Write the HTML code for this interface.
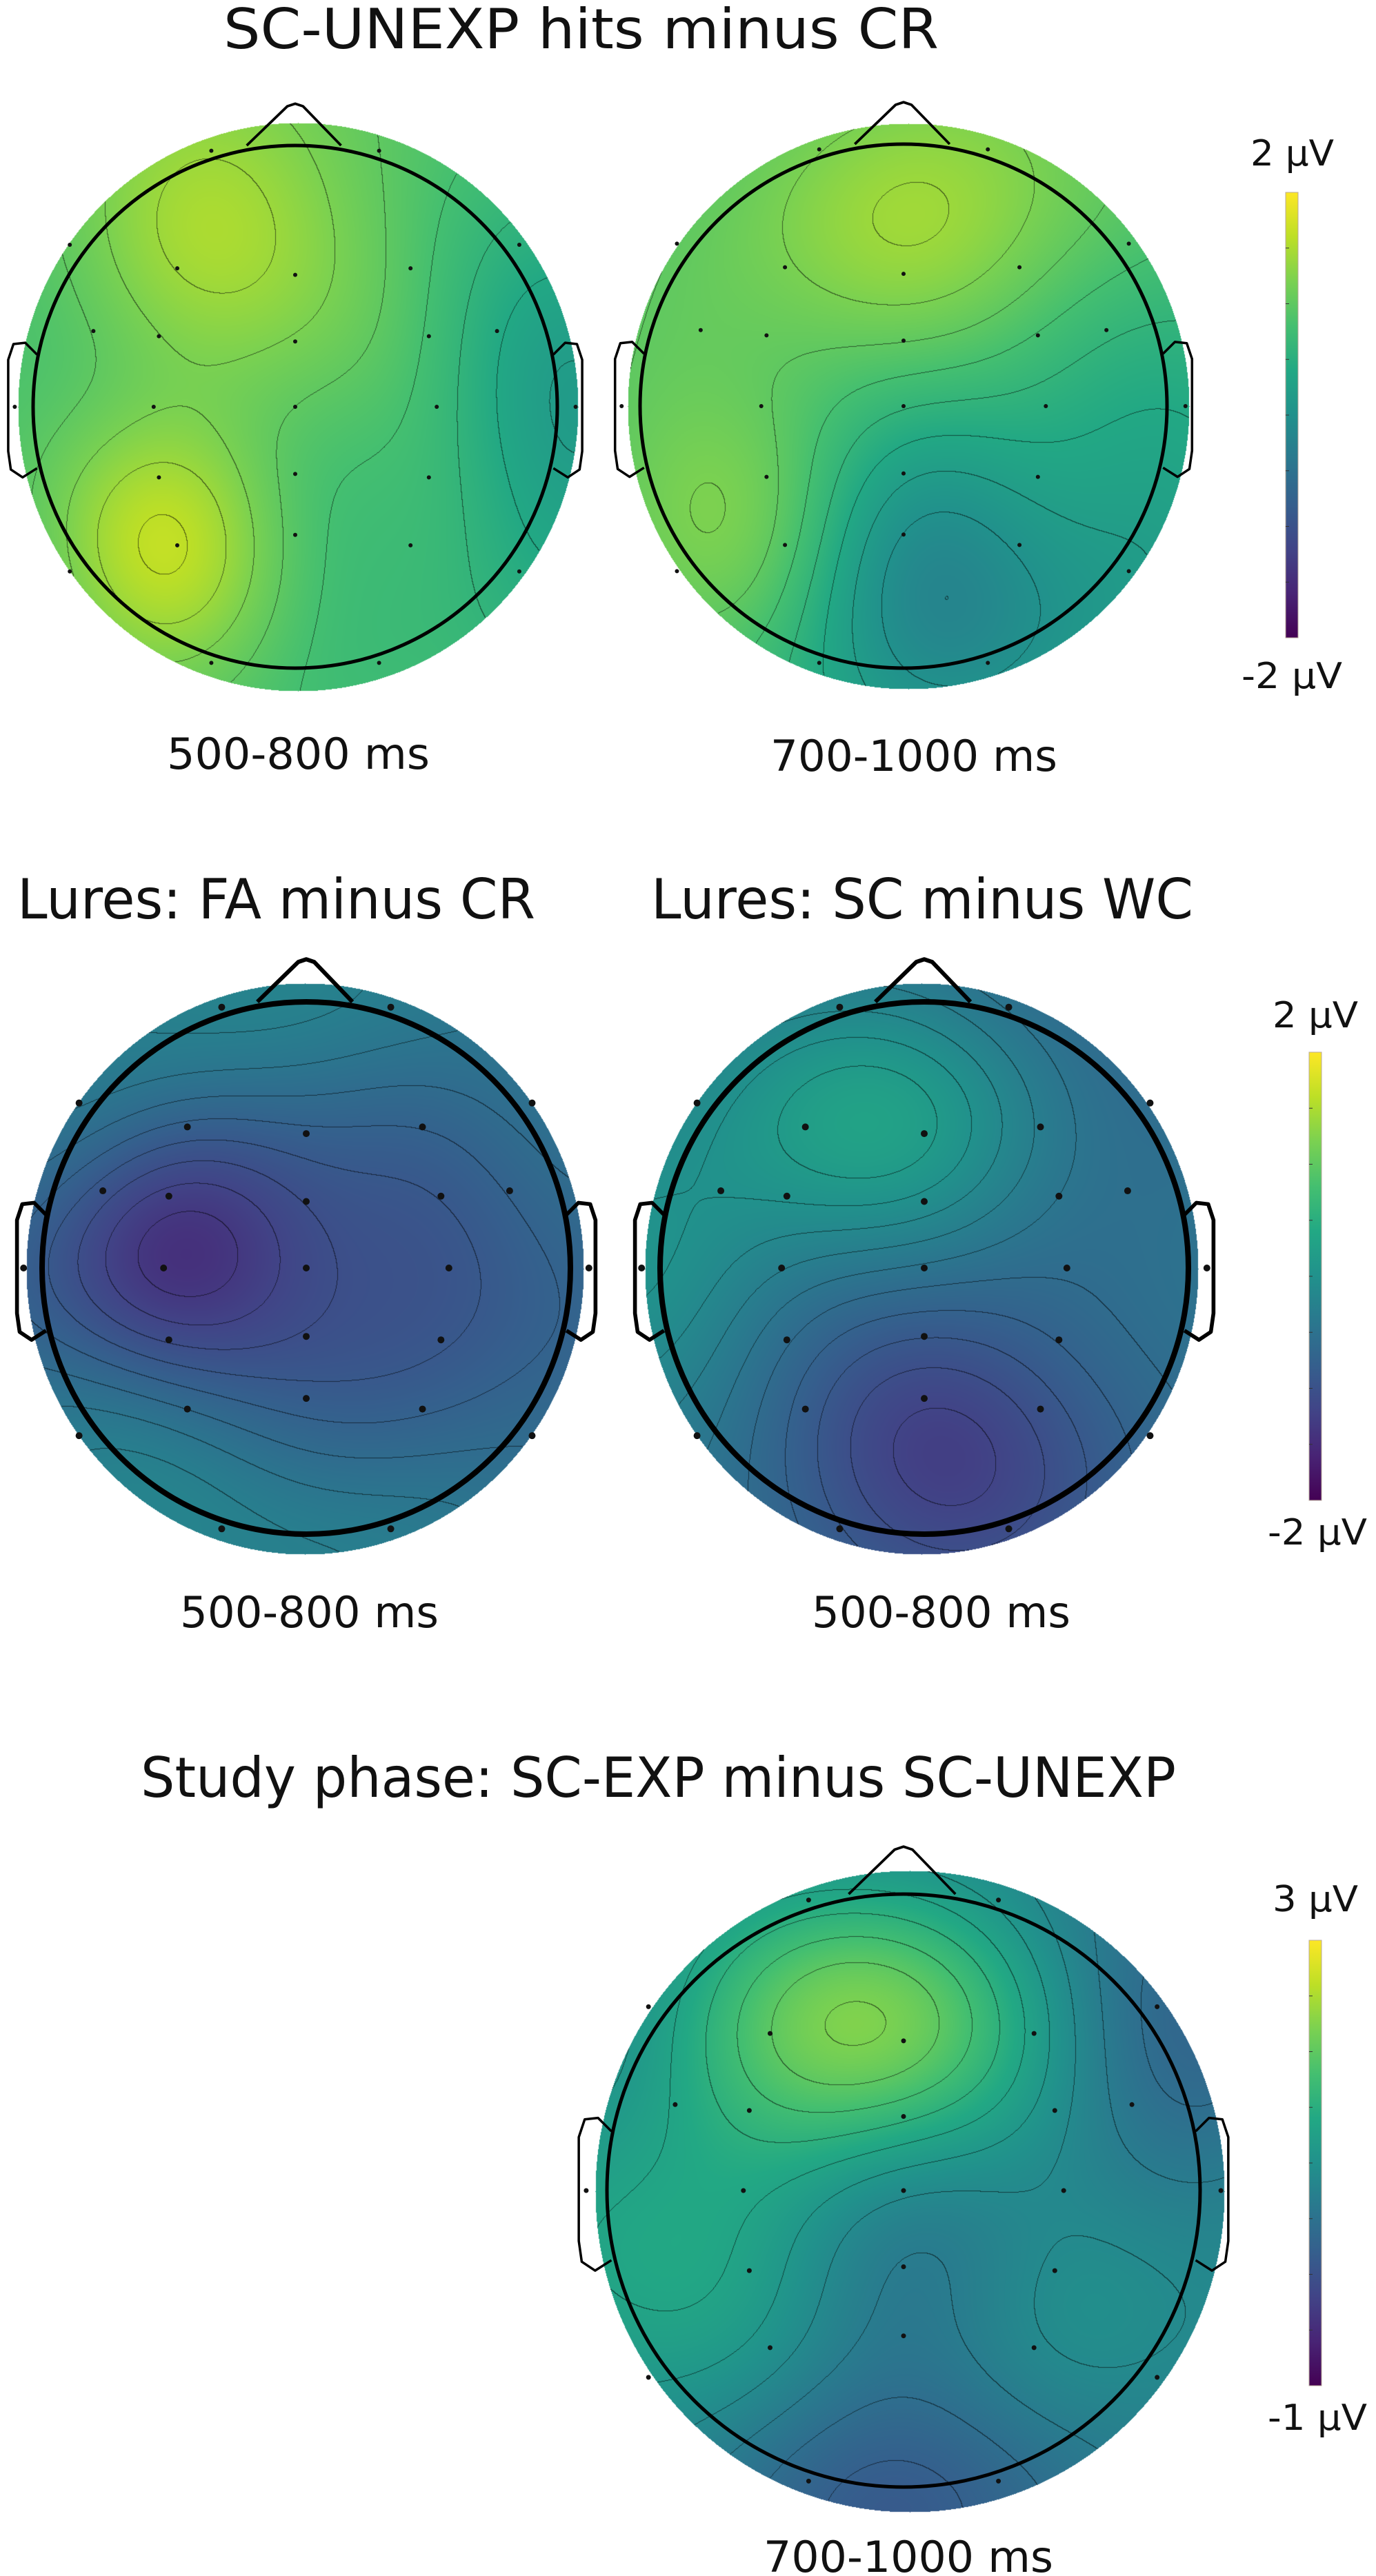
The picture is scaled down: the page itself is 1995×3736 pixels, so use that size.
<!DOCTYPE html>
<html><head><meta charset="utf-8"><title>Topographic maps</title>
<style>
html,body{margin:0;padding:0;background:#fff;}
#wrap{position:relative;width:1995px;height:3736px;overflow:hidden;}
#heat{position:absolute;left:0;top:0;}
#ov{position:absolute;left:0;top:0;}
text{font-family:"DejaVu Sans","Liberation Sans",sans-serif;fill:#111;}
</style></head>
<body>
<div id="wrap">
<canvas id="heat" width="1995" height="3736"></canvas>
<svg id="ov" width="1995" height="3736" viewBox="0 0 1995 3736" xmlns="http://www.w3.org/2000/svg">
<defs>
<linearGradient id="vir" x1="0" y1="1" x2="0" y2="0">
<stop offset="0" stop-color="#440154"/><stop offset="0.1" stop-color="#482475"/><stop offset="0.2" stop-color="#414487"/><stop offset="0.3" stop-color="#355f8d"/><stop offset="0.4" stop-color="#2a788e"/><stop offset="0.5" stop-color="#21918c"/><stop offset="0.6" stop-color="#22a884"/><stop offset="0.7" stop-color="#44bf70"/><stop offset="0.8" stop-color="#7ad151"/><stop offset="0.9" stop-color="#bddf26"/><stop offset="1" stop-color="#fde725"/>
</linearGradient>
</defs>
<text x="324" y="70" font-size="80" textLength="1037" lengthAdjust="spacingAndGlyphs">SC-UNEXP hits minus CR</text>
<text x="242" y="1115" font-size="62" textLength="381" lengthAdjust="spacingAndGlyphs">500-800 ms</text>
<text x="1117" y="1118" font-size="62" textLength="416" lengthAdjust="spacingAndGlyphs">700-1000 ms</text>
<text x="25" y="1332" font-size="80" textLength="751" lengthAdjust="spacingAndGlyphs">Lures: FA minus CR</text>
<text x="944" y="1332" font-size="80" textLength="786" lengthAdjust="spacingAndGlyphs">Lures: SC minus WC</text>
<text x="261" y="2360" font-size="62" textLength="375" lengthAdjust="spacingAndGlyphs">500-800 ms</text>
<text x="1177" y="2360" font-size="62" textLength="375" lengthAdjust="spacingAndGlyphs">500-800 ms</text>
<text x="204" y="2606" font-size="80" textLength="1501" lengthAdjust="spacingAndGlyphs">Study phase: SC-EXP minus SC-UNEXP</text>
<text x="1107" y="3730" font-size="62" textLength="420" lengthAdjust="spacingAndGlyphs">700-1000 ms</text>
<g id="heads"></g>
<g id="bars"></g>
</svg>
</div>
<script>
// electrode layout (normalized head coords)
const elecX = [-0.32,0.32,-0.86,0.855,-0.45,0,0.44,-0.77,-0.52,0,0.51,0.77,-1.07,-0.54,0,0.54,1.07,-0.52,0,0.51,-0.86,0.855,-0.45,0,0.44,-0.32,0.32];
const elecY = [-0.98,-0.98,-0.62,-0.62,-0.53,-0.505,-0.53,-0.29,-0.27,-0.25,-0.27,-0.29,0,0,0,0,0,0.27,0.257,0.27,0.63,0.63,0.53,0.49,0.53,0.98,0.98];
// values in microvolts per electrode (Fp1,Fp2,F7,F8,F3,Fz,F4,FT7,FC3,FCz,FC4,FT8,T7,C3,Cz,C4,T8,CP3,CPz,CP4,P7,P8,P3,Pz,P4,O1,O2)
const hitsEarly = [1.4,1.0,1.0,0.5,1.5,1.3,0.9,1.0,1.2,1.2,0.8,0.4,0.9,1.1,1.0,0.7,0.1,1.5,0.9,0.7,1.1,0.4,1.85,0.8,0.8,1.1,0.7];
const hitsLate = [1.2,1.3,1.0,0.9,1.2,1.4,1.1,1.1,1.0,1.0,0.8,0.6,1.0,1.0,0.6,0.5,0.4,1.1,0.3,0.3,1.1,0.1,1.0,-0.2,0.1,0.4,-0.1];
const luresFA = [-0.2,-0.3,-0.4,-0.5,-0.8,-0.8,-0.8,-0.9,-1.3,-1.0,-0.9,-0.7,-0.8,-1.6,-1.1,-1.0,-0.7,-1.0,-1.0,-0.9,-0.3,-0.6,-0.6,-0.9,-0.8,-0.2,-0.3];
const luresSC = [-0.2,-0.5,-0.1,-0.6,0.3,0.3,-0.3,0.0,0.0,-0.1,-0.5,-0.5,0.1,-0.3,-0.5,-0.6,-0.5,-0.6,-0.8,-0.7,-0.4,-0.7,-0.8,-1.3,-1.0,-0.9,-1.1];
const studyPhase = [1.3,1.0,1.1,0.3,2.2,2.3,1.3,1.3,1.5,1.5,1.0,0.5,1.3,1.5,0.9,0.85,0.7,1.2,0.55,0.9,1.1,0.8,1.1,0.6,0.95,0.2,0.25];
const scaleMins = [-2,-2,-2,-2,-1];
const scaleMaxs = [2,2,2,2,3];
const barTopLabels = ["2 µV","2 µV","3 µV"];
const barBottomLabels = ["-2 µV","-2 µV","-1 µV"];

const heads = [
 {vals:hitsEarly, vmin:scaleMins[0], vmax:scaleMaxs[0], cx:428, cy:590, rx:380, ry:379, fx:432, fy:590, frx:406, fry:412, sw:5, dot:3, step:0.2},
 {vals:hitsLate, vmin:scaleMins[1], vmax:scaleMaxs[1], cx:1310, cy:589, rx:382, ry:380, fx:1317, fy:589, frx:407, fry:410, sw:5, dot:3, step:0.2},
 {vals:luresFA, vmin:scaleMins[2], vmax:scaleMaxs[2], cx:444, cy:1839, rx:383, ry:386, fx:442, fy:1840, frx:404, fry:414, sw:8, dot:5, step:0.15},
 {vals:luresSC, vmin:scaleMins[3], vmax:scaleMaxs[3], cx:1340, cy:1839, rx:383, ry:386, fx:1336, fy:1840, frx:401, fry:414, sw:8, dot:5, step:0.15},
 {vals:studyPhase, vmin:scaleMins[4], vmax:scaleMaxs[4], cx:1310, cy:3177, rx:430, ry:430, fx:1319, fy:3178, frx:456, fry:465, sw:5, dot:3.5, step:0.22}
];
const bars = [
 {x:1864, y0:279, y1:925, tl:[1813,240,121], bl:[1800,998,146]},
 {x:1898, y0:1526, y1:2176, tl:[1845,1490,124], bl:[1838,2240,144]},
 {x:1898, y0:2814, y1:3460, tl:[1845,2772,124], bl:[1838,3524,144]}
];

const vstops = [[68,1,84],[72,36,117],[65,68,135],[53,95,141],[42,120,142],[33,145,140],[34,168,132],[68,191,112],[122,209,81],[189,223,38],[253,231,37]];
function viridis(t){
  t=Math.max(0,Math.min(1,t))*10; const i=Math.min(9,Math.floor(t)); const f=t-i;
  const a=vstops[i], b=vstops[i+1];
  return [a[0]+(b[0]-a[0])*f, a[1]+(b[1]-a[1])*f, a[2]+(b[2]-a[2])*f];
}
const SIG=0.42;
function kern(d2){return Math.exp(-d2/(2*SIG*SIG));}
function solve(A,b){
  const n=b.length; const M=A.map((r,i)=>r.concat([b[i]]));
  for(let c=0;c<n;c++){
    let p=c; for(let r=c+1;r<n;r++) if(Math.abs(M[r][c])>Math.abs(M[p][c])) p=r;
    [M[c],M[p]]=[M[p],M[c]];
    for(let r=0;r<n;r++){ if(r===c) continue; const f=M[r][c]/M[c][c]; for(let k=c;k<=n;k++) M[r][k]-=f*M[c][k]; }
  }
  return M.map((r,i)=>r[n]/r[i]);
}

const ctx = document.getElementById('heat').getContext('2d');
const NS='http://www.w3.org/2000/svg';
const gH=document.getElementById('heads');
function mk(tag, attrs, parent){
  const e=document.createElementNS(NS,tag);
  for(const k in attrs) e.setAttribute(k, attrs[k]);
  parent.appendChild(e); return e;
}

heads.forEach((h,hi)=>{
  const n=elecX.length;
  const mean=h.vals.reduce((a,b)=>a+b,0)/n;
  const A=[]; for(let i=0;i<n;i++){A.push([]); for(let j=0;j<n;j++){const dx=elecX[i]-elecX[j],dy=elecY[i]-elecY[j]; A[i].push(kern(dx*dx+dy*dy)+(i===j?0.12:0));}}
  const wts=solve(A,h.vals.map(v=>v-mean));
  const x0=Math.floor(h.fx-h.frx), y0=Math.floor(h.fy-h.fry);
  const w=Math.ceil(2*h.frx)+2, ht=Math.ceil(2*h.fry)+2;
  const vals=new Float32Array(w*ht).fill(NaN);
  const exs=elecX.map(e=>h.cx+e*h.rx), eys=elecY.map(e=>h.cy+e*h.ry);
  for(let j=0;j<ht;j++){
    for(let i=0;i<w;i++){
      const px=x0+i, py=y0+j;
      const dx=(px-h.fx)/h.frx, dy=(py-h.fy)/h.fry;
      if(dx*dx+dy*dy>1) continue;
      const nx=(px-h.cx)/h.rx, ny=(py-h.cy)/h.ry;
      let s=mean;
      for(let k=0;k<n;k++){const a=nx-elecX[k], b=ny-elecY[k]; s+=wts[k]*kern(a*a+b*b);}
      vals[j*w+i]=s;
    }
  }
  const img=ctx.createImageData(w,ht);
  const d=img.data;
  for(let j=0;j<ht;j++){
    for(let i=0;i<w;i++){
      const v=vals[j*w+i]; if(isNaN(v)) continue;
      let c=viridis((v-h.vmin)/(h.vmax-h.vmin));
      const k=Math.floor(v/h.step);
      let line=false;
      if(i+1<w){const r=vals[j*w+i+1]; if(!isNaN(r)&&Math.floor(r/h.step)!==k) line=true;}
      if(j+1<ht){const b=vals[(j+1)*w+i]; if(!isNaN(b)&&Math.floor(b/h.step)!==k) line=true;}
      if(line) c=[c[0]*0.45,c[1]*0.45,c[2]*0.45];
      const p=(j*w+i)*4; d[p]=c[0]; d[p+1]=c[1]; d[p+2]=c[2]; d[p+3]=255;
    }
  }
  ctx.putImageData(img,x0,y0);

  const g=mk('g',{},gH);
  
  
  const o=mk('ellipse',{cx:h.cx,cy:h.cy,rx:h.rx,ry:h.ry,fill:'none',stroke:'#000','stroke-width':h.sw},g);
  
  
  const nb=h.cx, ny=h.cy;
  const nose=mk('polyline',{points:
    `${nb-0.185*h.rx},${ny-1.0*h.ry} ${nb-0.03*h.rx},${ny-1.15*h.ry} ${nb},${ny-1.16*h.ry} ${nb+0.03*h.rx},${ny-1.15*h.ry} ${nb+0.175*h.rx},${ny-1.0*h.ry}`,
    fill:'none',stroke:'#000','stroke-width':h.sw*0.75,'stroke-linejoin':'round'},g);
  
  
  [-1,1].forEach(s=>{
    const pts=[[0.985,-0.2],[1.03,-0.245],[1.075,-0.24],[1.095,-0.18],[1.095,0.17],[1.085,0.24],[1.04,0.27],[0.985,0.235]]
      .map(p=>`${h.cx+s*p[0]*h.rx},${h.cy+p[1]*h.ry}`).join(' ');
    const ear=mk('polyline',{points:pts,fill:'none',stroke:'#000','stroke-width':h.sw*0.7,'stroke-linejoin':'round'},g);
    
    
  });
  for(let k=0;k<exs.length;k++){
    const c=mk('circle',{cx:exs[k],cy:eys[k],r:h.dot,fill:'#111'},g);
    
    
  }
});

const gB=document.getElementById('bars');
bars.forEach((b,bi)=>{
  const g=mk('g',{},gB);
  
  
  const r=mk('rect',{x:b.x,y:b.y0,width:18,height:b.y1-b.y0,fill:'url(#vir)',stroke:'#b8a89a','stroke-width':1},g);
  
  
  for(let t=1;t<8;t++){
    const yy=b.y0+(b.y1-b.y0)*t/8;
    const tk=mk('line',{x1:b.x,x2:b.x+5,y1:yy,y2:yy,stroke:'#333','stroke-width':1},g);
    
    
  }
  const t1=mk('text',{x:b.tl[0],y:b.tl[1],'font-size':52,textLength:b.tl[2],lengthAdjust:'spacingAndGlyphs'},g);
  t1.textContent=barTopLabels[bi];
  
  
  const t2=mk('text',{x:b.bl[0],y:b.bl[1],'font-size':52,textLength:b.bl[2],lengthAdjust:'spacingAndGlyphs'},g);
  t2.textContent=barBottomLabels[bi];
  
  
});
</script>
</body></html>
